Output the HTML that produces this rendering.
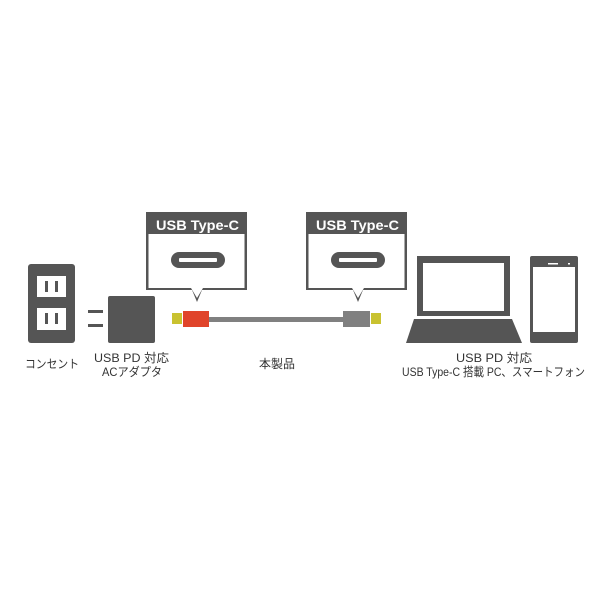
<!DOCTYPE html>
<html><head><meta charset="utf-8"><style>
html,body{margin:0;padding:0;background:#fff;}
svg{display:block}
text{font-family:"Liberation Sans","Noto Sans CJK JP",sans-serif;}
</style></head><body>
<svg width="600" height="600" viewBox="0 0 600 600" xmlns="http://www.w3.org/2000/svg">
<rect width="600" height="600" fill="#fff"/>
<!-- outlet -->
<rect x="28" y="264" width="47" height="79" rx="3" fill="#555"/>
<rect x="37" y="276" width="29" height="21" fill="#fff"/>
<rect x="37" y="308" width="29" height="22" fill="#fff"/>
<rect x="45" y="281" width="3" height="11" fill="#555"/>
<rect x="55" y="281" width="3" height="11" fill="#555"/>
<rect x="45" y="313" width="3" height="11" fill="#555"/>
<rect x="55" y="313" width="3" height="11" fill="#555"/>
<!-- adapter -->
<rect x="88" y="310" width="15" height="3" fill="#555"/>
<rect x="88" y="324" width="15" height="3" fill="#555"/>
<rect x="108" y="296" width="47" height="47" rx="2" fill="#555"/>
<!-- callout 1 -->
<g>
<polygon points="146,212 247,212 247,290 202,290 197,302 192,290 146,290" fill="#555"/>
<rect x="148.5" y="234" width="96" height="54" fill="#fff"/>
<polygon points="191,288 203,288 197,298" fill="#fff"/>
<text x="156" y="230" fill="#fff" font-size="13.5" font-weight="bold" textLength="83" lengthAdjust="spacingAndGlyphs">USB Type-C</text>
<rect x="171" y="252" width="54" height="16" rx="8" fill="#555"/>
<rect x="179" y="258" width="38" height="4" rx="1" fill="#fff"/>
</g>
<!-- callout 2 -->
<g>
<polygon points="306,212 407,212 407,290 363,290 358,302 353,290 306,290" fill="#555"/>
<rect x="308.5" y="234" width="96" height="54" fill="#fff"/>
<polygon points="352,288 364,288 358,298" fill="#fff"/>
<text x="316" y="230" fill="#fff" font-size="13.5" font-weight="bold" textLength="83" lengthAdjust="spacingAndGlyphs">USB Type-C</text>
<rect x="331" y="252" width="54" height="16" rx="8" fill="#555"/>
<rect x="339" y="258" width="38" height="4" rx="1" fill="#fff"/>
</g>
<!-- cable -->
<rect x="172" y="313" width="10" height="11" fill="#c9c230"/>
<rect x="183" y="311" width="26" height="16" fill="#e0442a"/>
<rect x="209" y="317" width="134" height="5" fill="#808080"/>
<rect x="343" y="311" width="27" height="16" fill="#808080"/>
<rect x="371" y="313" width="10" height="11" fill="#c9c230"/>
<!-- laptop -->
<rect x="417" y="256" width="93" height="60" fill="#555"/>
<rect x="423" y="263" width="81" height="48" fill="#fff"/>
<polygon points="414,319 512,319 522,343 406,343" fill="#555"/>
<!-- phone -->
<rect x="530" y="256" width="48" height="87" rx="2" fill="#555"/>
<rect x="533" y="267" width="42" height="65" fill="#fff"/>
<rect x="548" y="263" width="10" height="1.5" fill="#fff"/>
<rect x="568" y="263" width="2" height="1.5" fill="#fff"/>
<!-- labels -->
<g font-size="12" fill="#333" lengthAdjust="spacingAndGlyphs">
<text x="25" y="368" textLength="54" lengthAdjust="spacingAndGlyphs">コンセント</text>
<text x="94" y="362" textLength="75" lengthAdjust="spacingAndGlyphs">USB PD 対応</text>
<text x="102" y="376" textLength="60" lengthAdjust="spacingAndGlyphs">ACアダプタ</text>
<text x="259" y="368" textLength="36" lengthAdjust="spacingAndGlyphs">本製品</text>
<text x="456" y="362" textLength="76" lengthAdjust="spacingAndGlyphs">USB PD 対応</text>
<text x="402" y="376" textLength="183" lengthAdjust="spacingAndGlyphs">USB Type-C 搭載 PC、スマートフォン</text>
</g>
</svg>
</body></html>
